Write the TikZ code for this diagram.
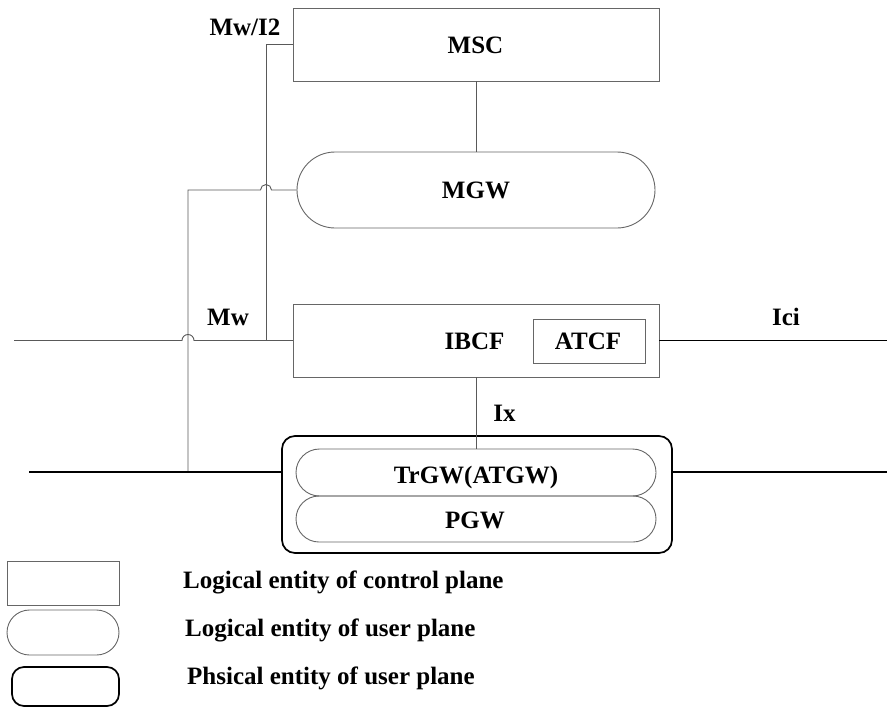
\documentclass[tikz,border=0pt]{standalone}
\usepackage{fontspec}
\setmainfont{Liberation Serif}
\begin{document}
\begin{tikzpicture}[x=1pt,y=1pt,
  thinline/.style={draw=black!65, line width=0.9pt},
  thickline/.style={draw=black, line width=1.7pt},
  lab/.style={font=\fontsize{25}{25}\selectfont\bfseries, inner sep=0pt, anchor=base},
  legtext/.style={font=\fontsize{25}{25}\selectfont\bfseries, inner sep=0pt, anchor=base west},
  ctrlbox/.style={draw=black!60, line width=0.9pt, rectangle, inner sep=0pt},
  userbox/.style={draw=black!60, line width=0.9pt, rectangle, inner sep=0pt},
  physbox/.style={draw=black, line width=1.7pt, rectangle, inner sep=0pt, rounded corners=13pt}
]
\useasboundingbox (0,0) rectangle (887,-707);

% entities
\node[ctrlbox, minimum width=366, minimum height=73] (msc) at (476,-44.5) {};
\node[userbox, minimum width=358, minimum height=76, rounded corners=38pt] (mgw) at (476,-190) {};
\node[ctrlbox, minimum width=366, minimum height=73] (ibcf) at (476,-340.5) {};
\node[ctrlbox, minimum width=112, minimum height=44] (atcf) at (589,-341) {};
\node[physbox, minimum width=390, minimum height=117] (phy) at (477,-494.5) {};
\node[userbox, minimum width=360, minimum height=47, rounded corners=23.5pt] (trgw) at (476,-472.5) {};
\node[userbox, minimum width=360, minimum height=46, rounded corners=23pt] (pgw) at (476,-519) {};

% labels
\node[lab] (msclab) at (475.5,-53) {MSC};
\node[lab] (mgwlab) at (476,-198) {MGW};
\node[lab] (ibcflab) at (474.5,-349) {IBCF};
\node[lab] (atcflab) at (588,-349) {ATCF};
\node[lab] (trgwlab) at (476,-483) {TrGW(ATGW)};
\node[lab] (pgwlab) at (475,-528) {PGW};
\node[lab] (mwi2) at (245,-35) {Mw/I2};
\node[lab] (mw) at (228,-325) {Mw};
\node[lab] (ici) at (786,-325) {Ici};
\node[lab] (ix) at (504.5,-421) {Ix};

% coordinates
\coordinate (j1) at (266,-340.5);
\coordinate (c1) at (188,-190);
\coordinate (c2) at (188,-472);
\coordinate (lstart) at (14,-340.5);
\coordinate (iciend) at (887,-340.5);
\coordinate (bl) at (29,-472);
\coordinate (br) at (887,-472);

% connectors
\draw[thinline] (msc.south -| mgw.north) -- (mgw.north);
\draw[thinline] (msc.west) -| (j1) -- (ibcf.west);
\draw[thinline] (mgw.west) -- (271.5,-190) arc (0:180:5.5) -- (c1) -- (c2);
\draw[thinline] (lstart) -- (182,-340.5) arc (180:0:6) -- (j1);
\draw[thickline] (ibcf.east) -- (iciend);
\draw[thinline] (ibcf.south) -- (trgw.north);
\draw[thickline] (bl) -- (bl -| phy.west);
\draw[thickline] (br -| phy.east) -- (br);

% legend
\node[ctrlbox, minimum width=112, minimum height=44] (legc) at (63,-583) {};
\node[userbox, minimum width=112, minimum height=45, rounded corners=22.5pt] (legu) at (63,-632.5) {};
\node[physbox, minimum width=107, minimum height=39, rounded corners=12pt] (legp) at (65.5,-686.5) {};
\node[legtext] (legctext) at (183,-588) {Logical entity of control plane};
\node[legtext] (legutext) at (185,-636) {Logical entity of user plane};
\node[legtext] (legptext) at (187,-684) {Phsical entity of user plane};
\end{tikzpicture}
\end{document}
